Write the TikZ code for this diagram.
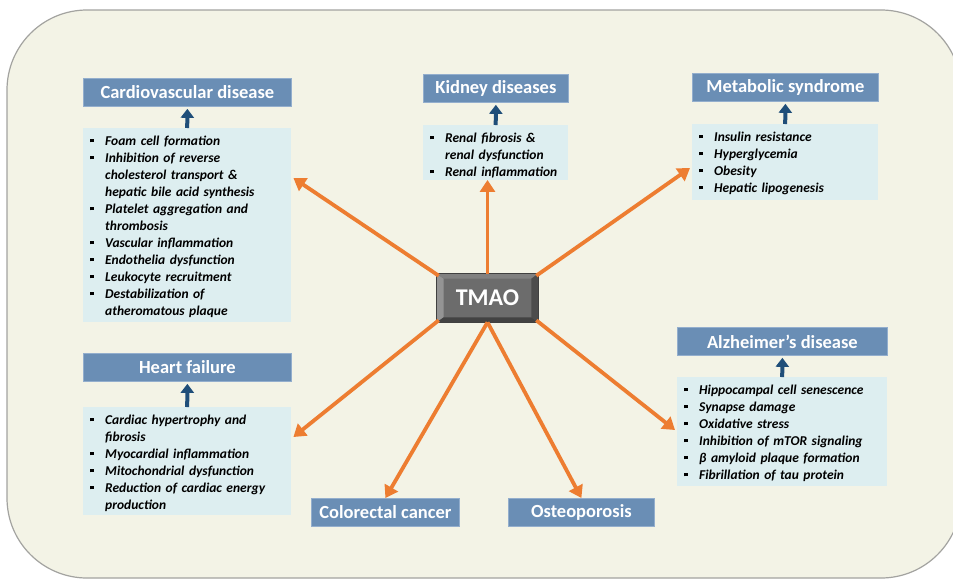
\documentclass[tikz,border=0pt]{standalone}
\usepackage{fontspec}
\setmainfont{Carlito}
\usetikzlibrary{arrows.meta,calc}
\definecolor{bgfill}{HTML}{F3F3E6}
\definecolor{bgline}{HTML}{A3A3A0}
\definecolor{hdrfill}{HTML}{6A8EB5}
\definecolor{hdrline}{HTML}{93AECD}
\definecolor{lstfill}{HTML}{DDEEF0}
\definecolor{orangeA}{HTML}{ED7D31}
\definecolor{navyA}{HTML}{1F4E79}
\definecolor{tmface}{HTML}{6C6C6C}
\newcommand{\litem}[1]{\par\noindent\hangindent=15pt\hangafter=1\makebox[15pt][l]{\raisebox{2.8pt}{\rule{3.8pt}{3.8pt}}}#1\par}
\newcommand{\lend}[1]{\par\kern#1\hrule height0pt depth0pt}
\tikzset{
  hdr/.style={draw=hdrline, line width=0.8pt, fill=hdrfill, text=white,
    font=\fontsize{18.5}{20}\selectfont\bfseries, minimum height=28pt,
    inner sep=0pt, anchor=north west},
  lst/.style={fill=lstfill, anchor=north west, inner xsep=7pt, inner ysep=0pt,
    align=left, font=\fontsize{13.5}{17}\selectfont\bfseries\itshape},
  uparrow/.style={draw=navyA, line width=4pt, -{Triangle[width=13pt,length=9pt]}},
  orarrow/.style={draw=orangeA, line width=3.8pt, -{Triangle[width=15pt,length=12pt]}},
}
\begin{document}
\begin{tikzpicture}[x=1pt,y=-1pt]
\path[use as bounding box] (0,0) rectangle (953,579);
\fill[white] (0,0) rectangle (953,579);
\draw[bgline, line width=1.2pt, fill=bgfill, rounded corners=80pt] (7,10) rectangle (961,578);

% headers
\node[hdr, minimum width=208pt] (cardh) at (83,78) {Cardiovascular disease};
\node[hdr, minimum width=145pt] (kidh) at (423,74) {Kidney diseases};
\node[hdr, minimum width=186pt] (meth) at (692,73) {Metabolic syndrome};
\node[hdr, minimum width=210pt] (alzh) at (677,327) {Alzheimer’s disease};
\node[hdr, minimum width=208pt] (hfh) at (83,353) {Heart failure};
\node[hdr, minimum width=148pt] (colh) at (311,498) {Colorectal cancer};
\node[hdr, minimum width=146pt] (osth) at (508,498) {Osteoporosis};

% lists
\node[lst, text width=194pt, minimum height=193pt] (cardl) at (83,128) {%
\litem{Foam cell formation}%
\litem{Inhibition of reverse\newline cholesterol transport \&\newline hepatic bile acid synthesis}%
\litem{Platelet aggregation and\newline thrombosis}%
\litem{Vascular inflammation}%
\litem{Endothelia dysfunction}%
\litem{Leukocyte recruitment}%
\litem{Destabilization of\newline atheromatous plaque}\lend{5pt}};
\node[lst, text width=131pt, minimum height=54pt] (kidl) at (423,125) {%
\litem{Renal fibrosis \&\newline renal dysfunction}%
\litem{Renal inflammation}\lend{2pt}};
\node[lst, text width=172pt, minimum height=73pt] (metl) at (692,124) {%
\litem{Insulin resistance}%
\litem{Hyperglycemia}%
\litem{Obesity}%
\litem{Hepatic lipogenesis}\lend{6pt}};
\node[lst, text width=196pt, minimum height=108pt] (alzl) at (677,377) {%
\litem{Hippocampal cell senescence}%
\litem{Synapse damage}%
\litem{Oxidative stress}%
\litem{Inhibition of mTOR signaling}%
\litem{β amyloid plaque formation}%
\litem{Fibrillation of tau protein}\lend{5pt}};
\node[lst, text width=194pt, minimum height=106pt] (hfl) at (83,407) {%
\litem{Cardiac hypertrophy and\newline fibrosis}%
\litem{Myocardial inflammation}%
\litem{Mitochondrial dysfunction}%
\litem{Reduction of cardiac energy\newline production}\lend{4pt}};

% TMAO bevelled box
\node[fill=tmface, draw=black!75, line width=0.6pt, minimum width=101pt, minimum height=48pt,
  inner sep=0pt] (tmao) at (487.5,298) {};
\fill[black!42] (tmao.north west) -- (tmao.south west) -- ($(tmao.south west)+(7,-5)$) -- ($(tmao.north west)+(7,5)$) -- cycle;
\fill[black!50] (tmao.north west) -- (tmao.north east) -- ($(tmao.north east)+(-7,5)$) -- ($(tmao.north west)+(7,5)$) -- cycle;
\fill[black!70] (tmao.north east) -- (tmao.south east) -- ($(tmao.south east)+(-7,-5)$) -- ($(tmao.north east)+(-7,5)$) -- cycle;
\fill[black!74] (tmao.south west) -- (tmao.south east) -- ($(tmao.south east)+(-7,-5)$) -- ($(tmao.south west)+(7,-5)$) -- cycle;
\draw[black!75, line width=0.6pt] (tmao.north west) rectangle (tmao.south east);
\node[text=white, font=\fontsize{24}{26}\selectfont\bfseries] (tmaot) at (tmao.center) {TMAO};

% blue arrows
\draw[uparrow] (cardl.north) -- ($(cardh.south)+(0,2)$);
\draw[uparrow] (kidl.north) -- ($(kidh.south)+(0,2)$);
\draw[uparrow] (metl.north) -- ($(meth.south)+(0,2)$);
\draw[uparrow] (alzl.north) -- ($(alzh.south)+(0,2)$);
\draw[uparrow] (hfl.north) -- ($(hfh.south)+(0,2)$);

% orange arrows
\draw[orarrow] ($(tmao.north west)+(2,2)$) -- ($(cardl.north east)+(2,50)$);
\draw[orarrow] (tmao.north) -- (tmao.north |- kidl.south);
\draw[orarrow] ($(tmao.north east)+(-2,2)$) -- ($(metl.north west)+(-2,44)$);
\draw[orarrow] ($(tmao.south west)+(2,-2)$) -- ($(hfl.north east)+(2,30)$);
\draw[orarrow] (tmao.south) -- (colh.north);
\draw[orarrow] (tmao.south) -- (osth.north);
\draw[orarrow] ($(tmao.south east)+(-2,-2)$) -- ($(alzl.north west)+(-2,53)$);
\end{tikzpicture}
\end{document}
